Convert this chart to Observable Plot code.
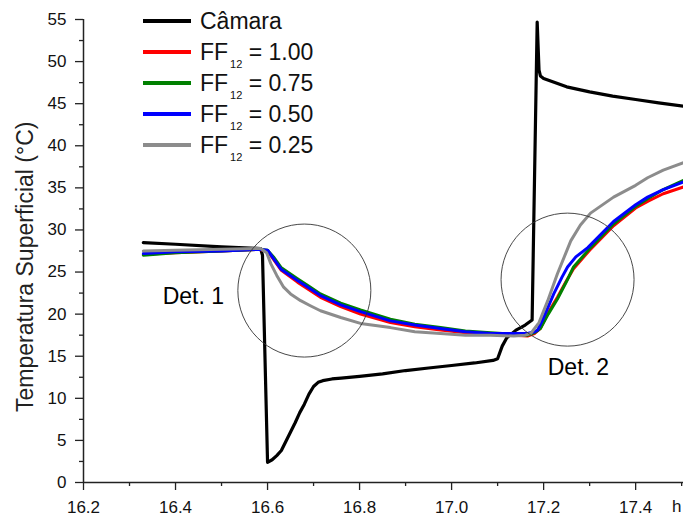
<!DOCTYPE html>
<html>
<head>
<meta charset="utf-8">
<script src="https://cdn.jsdelivr.net/npm/d3@7"></script>
<script src="https://cdn.jsdelivr.net/npm/@observablehq/plot@0.6"></script>
<style>
  body { margin: 0; background: white; }
  svg { display: block; }
</style>
</head>
<body>
<script>
// ---- Data ----
const xTicks = [16.2, 16.4, 16.6, 16.8, 17.0, 17.2, 17.4];
const yTicks = [0, 5, 10, 15, 20, 25, 30, 35, 40, 45, 50, 55];
const seriesNames = ["Câmara", "1.00", "0.75", "0.50", "0.25"];
const seriesColors = ["#000000", "#ff0000", "#008000", "#0000ff", "#8c8c8c"];

const camara = [
  [16.33, 28.5], [16.40, 28.3], [16.50, 28.0], [16.585, 27.8], [16.589, 27.0],
  [16.600, 2.4], [16.61, 2.7], [16.62, 3.2], [16.63, 3.8], [16.64, 4.9],
  [16.65, 6.0], [16.66, 7.1], [16.67, 8.3], [16.68, 9.3], [16.69, 10.5],
  [16.70, 11.4], [16.71, 11.9], [16.72, 12.1], [16.74, 12.3], [16.76, 12.4],
  [16.80, 12.6], [16.85, 12.9], [16.90, 13.3], [16.95, 13.6], [17.00, 13.9],
  [17.05, 14.2], [17.09, 14.5], [17.10, 14.7], [17.11, 16.2], [17.12, 17.2],
  [17.14, 18.1], [17.16, 18.7], [17.175, 19.3], [17.186, 54.7], [17.19, 49.0],
  [17.193, 48.3], [17.20, 48.0], [17.25, 47.0], [17.30, 46.4], [17.35, 45.9],
  [17.40, 45.5], [17.45, 45.1], [17.504, 44.7]
];
const ff100 = [
  [16.33, 27.1], [16.40, 27.3], [16.50, 27.5], [16.58, 27.7], [16.60, 27.5],
  [16.613, 26.5], [16.63, 25.2], [16.665, 23.8], [16.69, 22.9], [16.715, 22.0],
  [16.759, 20.9], [16.802, 20.0], [16.867, 19.0], [16.92, 18.5], [16.976, 18.1],
  [17.03, 17.8], [17.085, 17.6], [17.135, 17.5], [17.165, 17.4], [17.18, 17.7],
  [17.193, 18.3], [17.21, 20.2], [17.23, 22.0], [17.25, 24.0], [17.265, 25.4],
  [17.30, 27.6], [17.352, 30.5], [17.40, 32.6], [17.426, 33.4], [17.46, 34.3],
  [17.504, 35.1]
];
const ff075 = [
  [16.33, 27.0], [16.40, 27.3], [16.50, 27.5], [16.58, 27.7], [16.60, 27.6],
  [16.613, 26.8], [16.63, 25.5], [16.665, 24.2], [16.69, 23.3], [16.715, 22.4],
  [16.759, 21.3], [16.802, 20.5], [16.867, 19.4], [16.92, 18.8], [16.976, 18.4],
  [17.03, 18.0], [17.085, 17.8], [17.135, 17.6], [17.165, 17.5], [17.18, 17.8],
  [17.193, 18.3], [17.21, 20.0], [17.23, 21.8], [17.25, 23.9], [17.265, 25.6],
  [17.302, 27.9], [17.352, 30.7], [17.40, 32.8], [17.426, 33.7], [17.46, 34.8],
  [17.504, 35.9]
];
const ff050 = [
  [16.33, 27.2], [16.40, 27.4], [16.50, 27.5], [16.58, 27.7], [16.60, 27.6],
  [16.613, 26.6], [16.63, 25.3], [16.665, 24.0], [16.69, 23.1], [16.715, 22.2],
  [16.759, 21.1], [16.802, 20.3], [16.867, 19.2], [16.92, 18.7], [16.976, 18.3],
  [17.03, 17.9], [17.085, 17.7], [17.135, 17.7], [17.165, 17.7], [17.18, 17.9],
  [17.187, 18.1], [17.20, 19.6], [17.222, 22.4], [17.24, 24.4], [17.252, 25.6],
  [17.27, 26.8], [17.296, 27.9], [17.352, 31.0], [17.40, 33.0], [17.426, 33.9],
  [17.46, 34.8], [17.504, 35.7]
];
const ff025 = [
  [16.33, 27.5], [16.40, 27.6], [16.50, 27.7], [16.585, 27.8], [16.598, 27.3],
  [16.607, 26.0], [16.62, 24.6], [16.635, 23.2], [16.65, 22.4], [16.672, 21.6],
  [16.693, 21.0], [16.715, 20.4], [16.759, 19.6], [16.802, 18.9], [16.867, 18.4],
  [16.92, 17.9], [16.976, 17.7], [17.03, 17.5], [17.085, 17.5], [17.135, 17.4],
  [17.16, 17.5], [17.172, 17.7], [17.19, 19.0], [17.209, 21.6], [17.23, 24.8],
  [17.259, 28.7], [17.28, 30.6], [17.302, 32.0], [17.352, 33.9], [17.40, 35.3],
  [17.426, 36.2], [17.46, 37.1], [17.504, 38.0]
];
const detCircles = [
  {label: "Det. 1", cx: 16.68, cy: 22.8, tx: 16.372, ty: 22.1},
  {label: "Det. 2", cx: 17.252, cy: 24.1, tx: 17.209, ty: 13.6}
];

// ---- Build ----
const allSeries = [camara, ff100, ff075, ff050, ff025];
const X0 = 16.2, X1 = 17.504;
const xMinor = d3.range(16.3, 17.55, 0.2).map(v => +v.toFixed(1));
const yMinor = d3.range(2.5, 55, 5);

const lineMarks = allSeries.map((s, i) => Plot.line(s, {
  x: d => d[0], y: d => d[1],
  stroke: seriesColors[i], strokeWidth: i === 0 ? 3.2 : 3, strokeLinejoin: "round", curve: "linear"
}));

const chart = Plot.plot({
  width: 683, height: 517,
  marginLeft: 83, marginRight: 0, marginTop: 19, marginBottom: 35,
  style: {fontFamily: "'Liberation Sans', Arial, sans-serif", fontSize: "17px", color: "#111", background: "white"},
  x: {domain: [X0, X1], label: null},
  y: {domain: [0, 55], label: null},
  marks: [
    Plot.axisX({ticks: xTicks, tickFormat: d3.format(".1f"), tickSize: 8, tickPadding: 10, strokeWidth: 1.3, stroke: "#222", label: null}),
    Plot.axisX({ticks: xMinor, tickSize: 4, text: null, strokeWidth: 1.3, stroke: "#222", label: null}),
    Plot.axisY({ticks: yTicks, tickSize: 8, tickPadding: 9, strokeWidth: 1.3, stroke: "#222", label: null}),
    Plot.axisY({ticks: yMinor, tickSize: 4, text: null, strokeWidth: 1.3, stroke: "#222", label: null}),
    Plot.ruleX([X0], {y1: 0, y2: 55, stroke: "#222", strokeWidth: 1.5}),
    Plot.ruleY([0], {stroke: "#222", strokeWidth: 1.5}),
    ...lineMarks,
    Plot.dot(detCircles, {x: "cx", y: "cy", r: 66.5, stroke: "#333", strokeWidth: 0.9, fill: "none"}),
    Plot.text(detCircles, {x: "tx", y: "ty", text: "label", textAnchor: "start", fontSize: 23, fill: "#000"})
  ]
});
document.body.appendChild(chart);

// ---- Axis titles and legend ----
const svg = d3.select(chart);
svg.append("text")
  .attr("transform", "rotate(-90)")
  .attr("x", -412).attr("y", 33)
  .attr("text-anchor", "start")
  .attr("font-size", 23)
  .attr("fill", "#222")
  .text("Temperatura Superficial (°C)");
svg.append("text")
  .attr("x", 672).attr("y", 512)
  .attr("text-anchor", "start")
  .attr("font-size", 17)
  .attr("fill", "#111")
  .text("h");

const leg = svg.append("g").attr("font-size", 23).attr("fill", "#111").attr("text-anchor", "start");
seriesNames.forEach((name, i) => {
  const ly = 21 + i * 31;
  leg.append("line").attr("x1", 143).attr("x2", 191).attr("y1", ly).attr("y2", ly)
    .attr("stroke", seriesColors[i]).attr("stroke-width", 4);
  const t = leg.append("text").attr("x", 200).attr("y", ly + 7.5).attr("text-anchor", "start");
  if (i === 0) {
    t.text(name);
  } else {
    t.append("tspan").text("FF");
    t.append("tspan").attr("font-size", 11).attr("dy", 8).attr("dx", 2).text("12");
    t.append("tspan").attr("dy", -8).text(" = " + name);
  }
});
</script>
</body>
</html>
